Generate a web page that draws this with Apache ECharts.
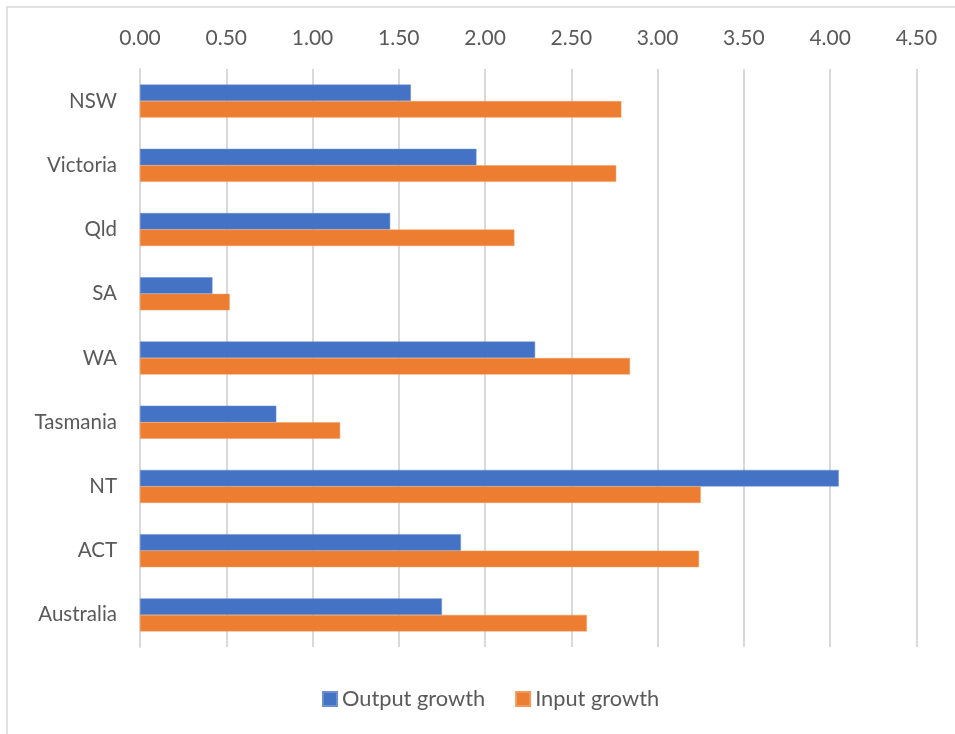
<!DOCTYPE html>
<html>
<head>
<meta charset="utf-8">
<script src="https://cdn.jsdelivr.net/npm/echarts@6/dist/echarts.min.js"></script>
<style>
html,body{margin:0;padding:0;background:#fff;}
#chart{width:955px;height:734px;}
</style>
</head>
<body>
<div id="chart"></div>
<script>
const categories = ['NSW', 'Victoria', 'Qld', 'SA', 'WA', 'Tasmania', 'NT', 'ACT', 'Australia'];
const outputGrowth = [1.57, 1.95, 1.45, 0.42, 2.29, 0.79, 4.05, 1.86, 1.75];
const inputGrowth = [2.79, 2.76, 2.17, 0.52, 2.84, 1.16, 3.25, 3.24, 2.59];
const seriesNames = ['Output growth', 'Input growth'];

const FONT = 'Lato';
const chart = echarts.init(document.getElementById('chart'), null, {renderer: 'canvas'});
chart.setOption({
  animation: false,
  backgroundColor: '#ffffff',
  textStyle: {fontFamily: FONT},
  graphic: [{
    type: 'rect',
    shape: {x: 7, y: 7, width: 1000, height: 1000},
    style: {fill: 'none', stroke: '#d9d9d9', lineWidth: 1.5},
    silent: true
  }],
  grid: {left: 140, right: 38.6, top: 69, bottom: 87, containLabel: false},
  legend: {
    data: seriesNames,
    left: 322,
    top: 688,
    padding: 0,
    itemWidth: 14,
    itemHeight: 14,
    itemGap: 30,
    icon: 'rect',
    textStyle: {fontFamily: FONT, fontSize: 21.8, color: '#595959'}
  },
  xAxis: {
    type: 'value',
    position: 'top',
    min: 0,
    max: 4.5,
    interval: 0.5,
    axisLine: {show: false},
    axisTick: {show: false},
    axisLabel: {
      fontFamily: FONT, fontSize: 21, color: '#595959', margin: 20,
      formatter: v => v.toFixed(2)
    },
    splitLine: {show: true, lineStyle: {color: '#d9d9d9', width: 2}}
  },
  yAxis: {
    type: 'category',
    data: categories,
    inverse: true,
    axisLine: {show: true, lineStyle: {color: '#d9d9d9', width: 2}},
    axisTick: {show: false},
    axisLabel: {fontFamily: FONT, fontSize: 20.5, color: '#595959', margin: 23},
    splitLine: {show: false}
  },
  series: [
    {
      name: seriesNames[0],
      type: 'bar',
      data: outputGrowth,
      barWidth: 16.5,
      barGap: '0%',
      itemStyle: {color: '#4472C4', borderColor: '#6d8fd0', borderWidth: 0.5}
    },
    {
      name: seriesNames[1],
      type: 'bar',
      data: inputGrowth,
      barWidth: 16.5,
      barGap: '0%',
      itemStyle: {color: '#ED7D31', borderColor: '#f19a5e', borderWidth: 0.5}
    }
  ]
});
</script>
</body>
</html>
